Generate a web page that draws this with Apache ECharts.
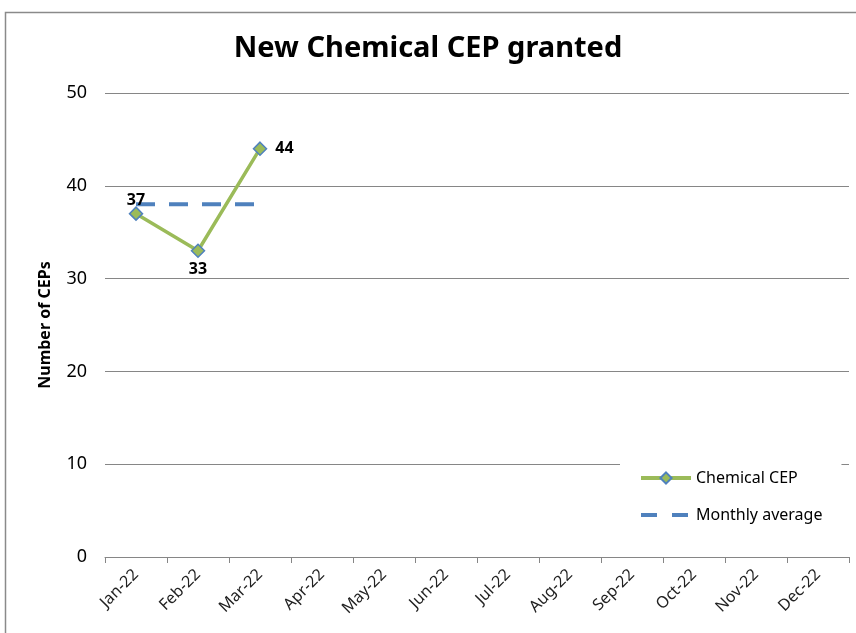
<!DOCTYPE html>
<html>
<head>
<meta charset="utf-8">
<script src="https://cdn.jsdelivr.net/npm/echarts@6/dist/echarts.min.js"></script>
<style>
    html, body { margin: 0; padding: 0; background: #fff; }
    #chart { width: 856px; height: 633px; }
</style>
</head>
<body>
<div id="chart"></div>
<script>
    var months = ['Jan-22', 'Feb-22', 'Mar-22', 'Apr-22', 'May-22', 'Jun-22',
        'Jul-22', 'Aug-22', 'Sep-22', 'Oct-22', 'Nov-22', 'Dec-22'];
    var chemicalCep = [37, 33, 44];
    var monthlyAverage = [38, 38, 38];
    var labelPositions = ['top', 'bottom', 'right'];
    var labelDistances = [-2, 3, 8];

    var font = '"Noto Sans", sans-serif';
    var myChart = echarts.init(document.getElementById('chart'));

    myChart.setOption({
        backgroundColor: '#ffffff',
        animation: false,
        title: {
            text: 'New Chemical CEP granted',
            left: 'center',
            top: 29,
            textStyle: {
                fontFamily: font,
                fontSize: 29,
                fontWeight: 'bold',
                color: '#000'
            }
        },
        graphic: [{
            type: 'rect',
            shape: { x: 5.5, y: 12.5, width: 900, height: 700 },
            style: { fill: 'none', stroke: '#8a8a8a', lineWidth: 1.5 },
            silent: true
        }],
        grid: {
            left: 105,
            right: 7,
            top: 93,
            bottom: 76
        },
        legend: {
            left: 620,
            top: 463,
            orient: 'vertical',
            backgroundColor: '#ffffff',
            padding: [7, 19, 6, 19],
            itemGap: 21,
            itemWidth: 50,
            itemHeight: 14,
            textStyle: {
                fontFamily: font,
                fontSize: 16,
                color: '#000'
            },
            data: [{
                name: 'Chemical CEP',
                lineStyle: { width: 4 }
            }, {
                name: 'Monthly average',
                itemStyle: { opacity: 0 },
                lineStyle: { width: 4, type: [16, 15], color: '#4f81bd' }
            }]
        },
        xAxis: {
            type: 'category',
            data: months,
            axisLine: { lineStyle: { color: '#868686', width: 1 } },
            axisTick: { show: true, length: 6, lineStyle: { color: '#868686' } },
            axisLabel: {
                rotate: 45,
                interval: 0,
                margin: 15,
                fontFamily: font,
                fontSize: 16,
                color: '#222'
            }
        },
        yAxis: {
            type: 'value',
            min: 0,
            max: 50,
            interval: 10,
            name: 'Number of CEPs',
            nameLocation: 'middle',
            nameGap: 52,
            nameTextStyle: {
                fontFamily: font,
                fontSize: 16,
                fontWeight: 'bold',
                color: '#000'
            },
            axisLine: { show: false },
            axisTick: { show: false },
            axisLabel: {
                margin: 18,
                fontFamily: font,
                fontSize: 18,
                color: '#000'
            },
            splitLine: { lineStyle: { color: '#868686', width: 1 } }
        },
        series: [{
            name: 'Chemical CEP',
            type: 'line',
            data: chemicalCep.map(function (v, i) {
                return { value: v, label: { position: labelPositions[i], distance: labelDistances[i] } };
            }),
            symbol: 'diamond',
            symbolSize: 13,
            lineStyle: { color: '#9bbb59', width: 3.5 },
            itemStyle: { color: '#9bbb59', borderColor: '#4f81bd', borderWidth: 1.5 },
            label: {
                show: true,
                fontFamily: font,
                fontSize: 16,
                fontWeight: 'bold',
                color: '#000'
            },
            z: 3
        }, {
            name: 'Monthly average',
            type: 'line',
            data: monthlyAverage,
            symbol: 'none',
            lineStyle: { color: '#4f81bd', width: 4, type: [19, 14] },
            itemStyle: { color: '#4f81bd' },
            z: 2
        }]
    });
</script>
</body>
</html>
